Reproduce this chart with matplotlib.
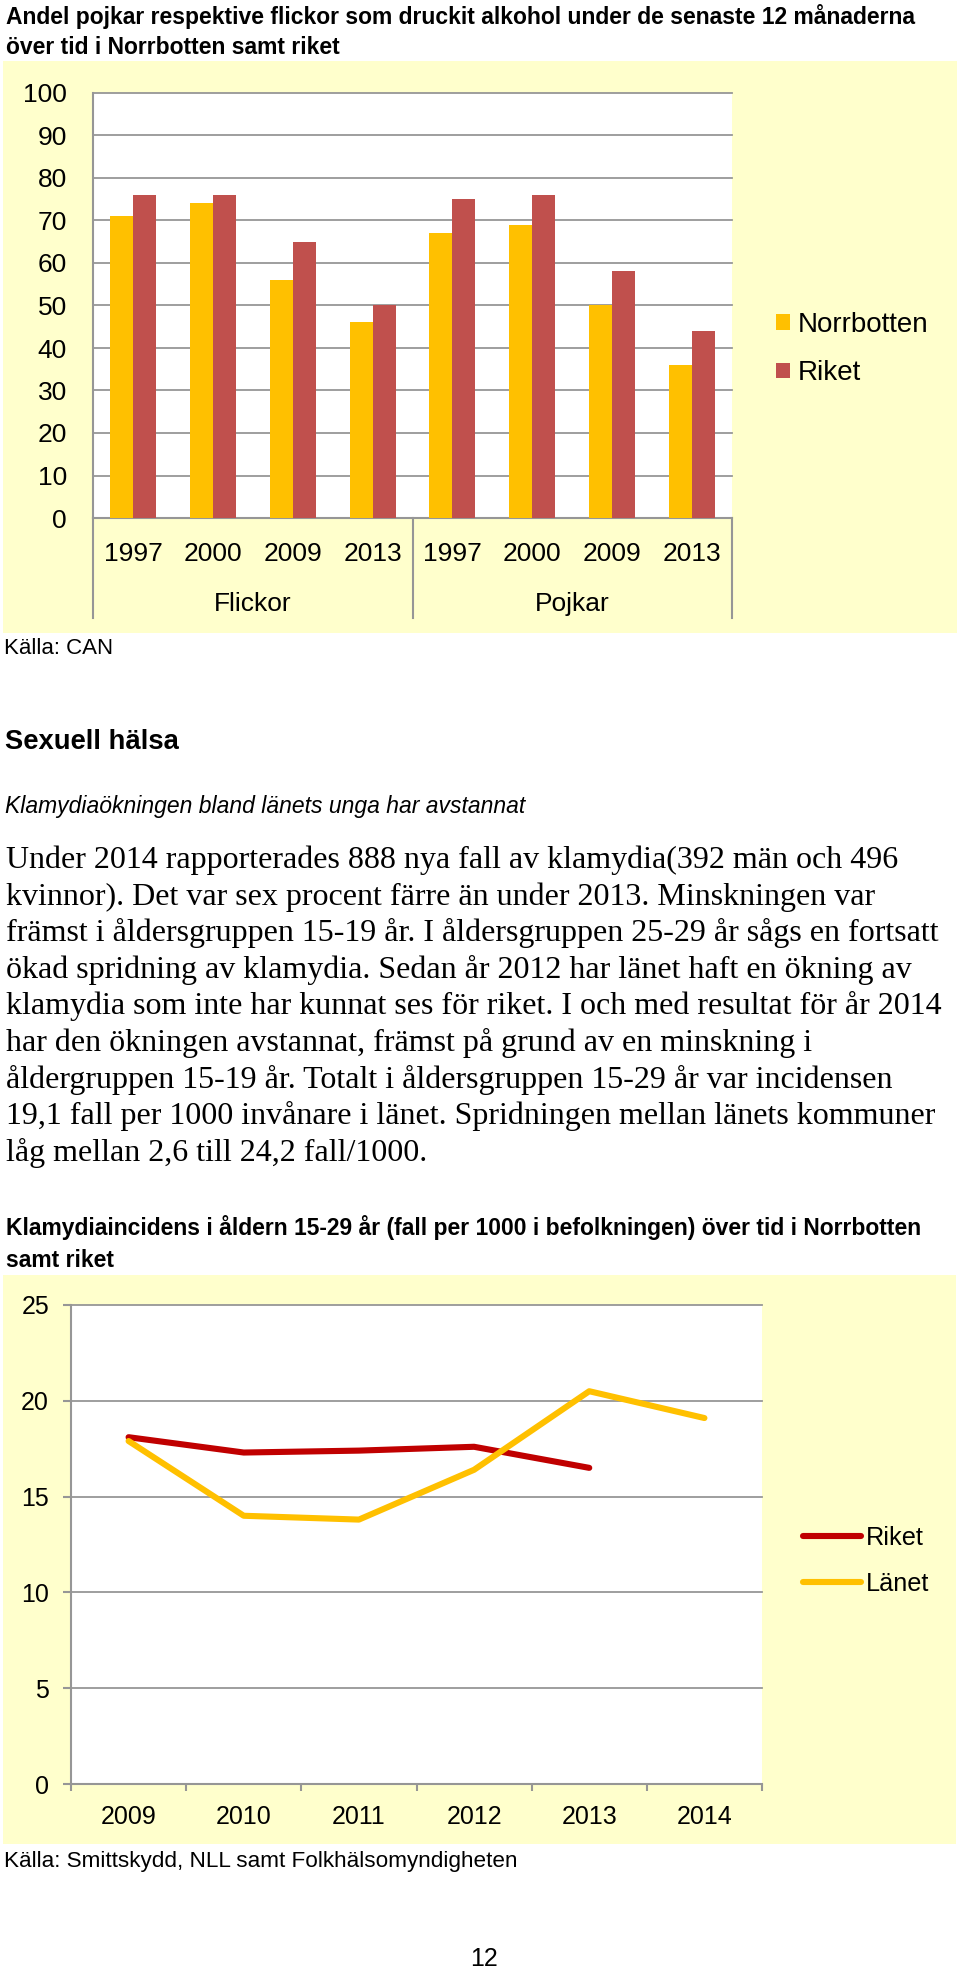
import numpy as np
import matplotlib
matplotlib.use('Agg')
import matplotlib.pyplot as plt
from matplotlib.patches import Rectangle
from matplotlib.transforms import blended_transform_factory

# Data: alkohol under senaste 12 månaderna
kategorier = ['1997', '2000', '2009', '2013', '1997', '2000', '2009', '2013']
grupper = ['Flickor', 'Pojkar']
norrbotten = [71, 74, 56, 46, 67, 69, 50, 36]
riket_alkohol = [76, 76, 65, 50, 75, 76, 58, 44]

# Data: klamydiaincidens 15-29 år
ar = ['2009', '2010', '2011', '2012', '2013', '2014']
riket_klamydia = [18.1, 17.3, 17.4, 17.6, 16.5]
lanet_klamydia = [17.9, 14.0, 13.8, 16.4, 20.5, 19.1]

brodtext = [
    'Under 2014 rapporterades 888 nya fall av klamydia(392 män och 496',
    'kvinnor). Det var sex procent färre än under 2013. Minskningen var',
    'främst i åldersgruppen 15-19 år. I åldersgruppen 25-29 år sågs en fortsatt',
    'ökad spridning av klamydia. Sedan år 2012 har länet haft en ökning av',
    'klamydia som inte har kunnat ses för riket. I och med resultat för år 2014',
    'har den ökningen avstannat, främst på grund av en minskning i',
    'åldergruppen 15-19 år. Totalt i åldersgruppen 15-29 år var incidensen',
    '19,1 fall per 1000 invånare i länet. Spridningen mellan länets kommuner',
    'låg mellan 2,6 till 24,2 fall/1000.',
]

W, H = 960, 1971
GUL = '#FFFFCC'
GRA = '#969696'
SANS = ['Liberation Sans', 'DejaVu Sans']
SERIF = ['Liberation Serif', 'DejaVu Serif']

plt.rcParams['font.family'] = SANS

fig = plt.figure(figsize=(W / 100, H / 100), dpi=100)
fig.patch.set_facecolor('white')


def rect(x0, y0, x1, y1):
    # pixelkoordinater (uppifrån) -> figurkoordinater
    return [x0 / W, 1 - y1 / H, (x1 - x0) / W, (y1 - y0) / H]


def fx(x):
    return x / W


def fy(y):
    return 1 - y / H


# Rubriker och text
fig.text(fx(6), fy(24), 'Andel pojkar respektive flickor som druckit alkohol under de senaste 12 månaderna',
         fontsize=16.5, fontweight='bold', va='baseline')
fig.text(fx(6), fy(54), 'över tid i Norrbotten samt riket', fontsize=16.5, fontweight='bold', va='baseline')
fig.text(fx(4), fy(654), 'Källa: CAN', fontsize=16, va='baseline')

fig.text(fx(5), fy(749), 'Sexuell hälsa', fontsize=19.7, fontweight='bold', va='baseline')
fig.text(fx(5), fy(813), 'Klamydiaökningen bland länets unga har avstannat', fontsize=16.5,
         style='italic', va='baseline')
for i, rad in enumerate(brodtext):
    fig.text(fx(6), fy(868 + i * 36.6), rad, fontsize=23, family=SERIF, va='baseline')

fig.text(fx(6), fy(1235), 'Klamydiaincidens i åldern 15-29 år (fall per 1000 i befolkningen) över tid i Norrbotten',
         fontsize=16.5, fontweight='bold', va='baseline')
fig.text(fx(6), fy(1267), 'samt riket', fontsize=16.5, fontweight='bold', va='baseline')
fig.text(fx(4), fy(1867), 'Källa: Smittskydd, NLL samt Folkhälsomyndigheten', fontsize=16.2, va='baseline')
fig.text(fx(484), fy(1966), '12', fontsize=18, ha='center', va='baseline')

# Gula bakgrunder
fig.add_artist(Rectangle((fx(3), fy(633)), (957 - 3) / W, (633 - 61) / H, transform=fig.transFigure,
                         facecolor=GUL, edgecolor='none', zorder=-5))
fig.add_artist(Rectangle((fx(3), fy(1844)), (956 - 3) / W, (1844 - 1275) / H, transform=fig.transFigure,
                         facecolor=GUL, edgecolor='none', zorder=-5))

# ---- Diagram 1: stapeldiagram ----
ax1 = fig.add_axes(rect(93, 93, 732, 518))
ax1.set_facecolor('white')
x = np.arange(len(kategorier)) + 0.5
bw = 0.288
ax1.bar(x - bw / 2, norrbotten, bw, color='#FFC000', label='Norrbotten', zorder=3)
ax1.bar(x + bw / 2, riket_alkohol, bw, color='#C0504D', label='Riket', zorder=3)
ax1.set_xlim(0, len(kategorier))
ax1.set_ylim(0, 100)
ax1.set_yticks(range(0, 101, 10))
ax1.yaxis.grid(True, color=GRA, lw=1.3)
for gl in ax1.get_ygridlines():
    gl.set_clip_on(False)
ax1.set_axisbelow(True)
for s in ['top', 'right']:
    ax1.spines[s].set_visible(False)
for s in ['left', 'bottom']:
    ax1.spines[s].set_color(GRA)
    ax1.spines[s].set_linewidth(1.5)
ax1.tick_params(axis='y', length=0, pad=18.7, labelsize=19)
ax1.set_xticks(x, kategorier)
ax1.tick_params(axis='x', length=0, pad=17, labelsize=19)

trans1 = blended_transform_factory(ax1.transData, ax1.transAxes)
ax_h1 = 518 - 93
for j, g in enumerate(grupper):
    ax1.text(2 + 4 * j, (518 - 611) / ax_h1, g, transform=trans1, ha='center', va='baseline', fontsize=19)
for xs in [0, 4, 8]:
    ax1.plot([xs, xs], [0, (518 - 618) / ax_h1], transform=trans1, color=GRA, lw=1.5, clip_on=False)

ax1.legend(loc='center left', bbox_to_anchor=(fx(776), fy(349)), bbox_transform=fig.transFigure,
           frameon=False, fontsize=20, handlelength=0.5, handleheight=0.5, handletextpad=0.3,
           labelspacing=0.82, borderpad=0, borderaxespad=0)

# ---- Diagram 2: linjediagram ----
ax2 = fig.add_axes(rect(71, 1305, 762, 1784))
ax2.set_facecolor('white')
xa = np.arange(len(ar)) + 0.5
ax2.plot(xa[:len(riket_klamydia)], riket_klamydia, color='#C00000', lw=4.4, label='Riket',
         solid_capstyle='round', solid_joinstyle='round', zorder=3)
ax2.plot(xa, lanet_klamydia, color='#FFC000', lw=4.4, label='Länet',
         solid_capstyle='round', solid_joinstyle='round', zorder=4)
ax2.set_xlim(0, len(ar))
ax2.set_ylim(0, 25)
ax2.set_yticks(range(0, 26, 5))
ax2.yaxis.grid(True, color=GRA, lw=1.3)
for gl in ax2.get_ygridlines():
    gl.set_clip_on(False)
ax2.set_axisbelow(True)
for s in ['top', 'right']:
    ax2.spines[s].set_visible(False)
for s in ['left', 'bottom']:
    ax2.spines[s].set_color(GRA)
    ax2.spines[s].set_linewidth(1.5)
ax2.set_xticks(np.arange(len(ar) + 1))
ax2.set_xticklabels([])
ax2.set_xticks(xa, ar, minor=True)
ax2.tick_params(axis='x', which='major', direction='out', length=5, width=1.5, color=GRA)
ax2.tick_params(axis='x', which='minor', length=0, pad=15, labelsize=18)
ax2.tick_params(axis='y', direction='out', length=5.8, width=1.5, color=GRA, pad=10, labelsize=18)

ax2.legend(loc='center left', bbox_to_anchor=(fx(803), fy(1561)), bbox_transform=fig.transFigure,
           frameon=False, fontsize=18.2, handlelength=2.3, handletextpad=0.2,
           labelspacing=0.88, borderpad=0, borderaxespad=0)

fig.savefig('out.png', dpi=100, facecolor='white')
